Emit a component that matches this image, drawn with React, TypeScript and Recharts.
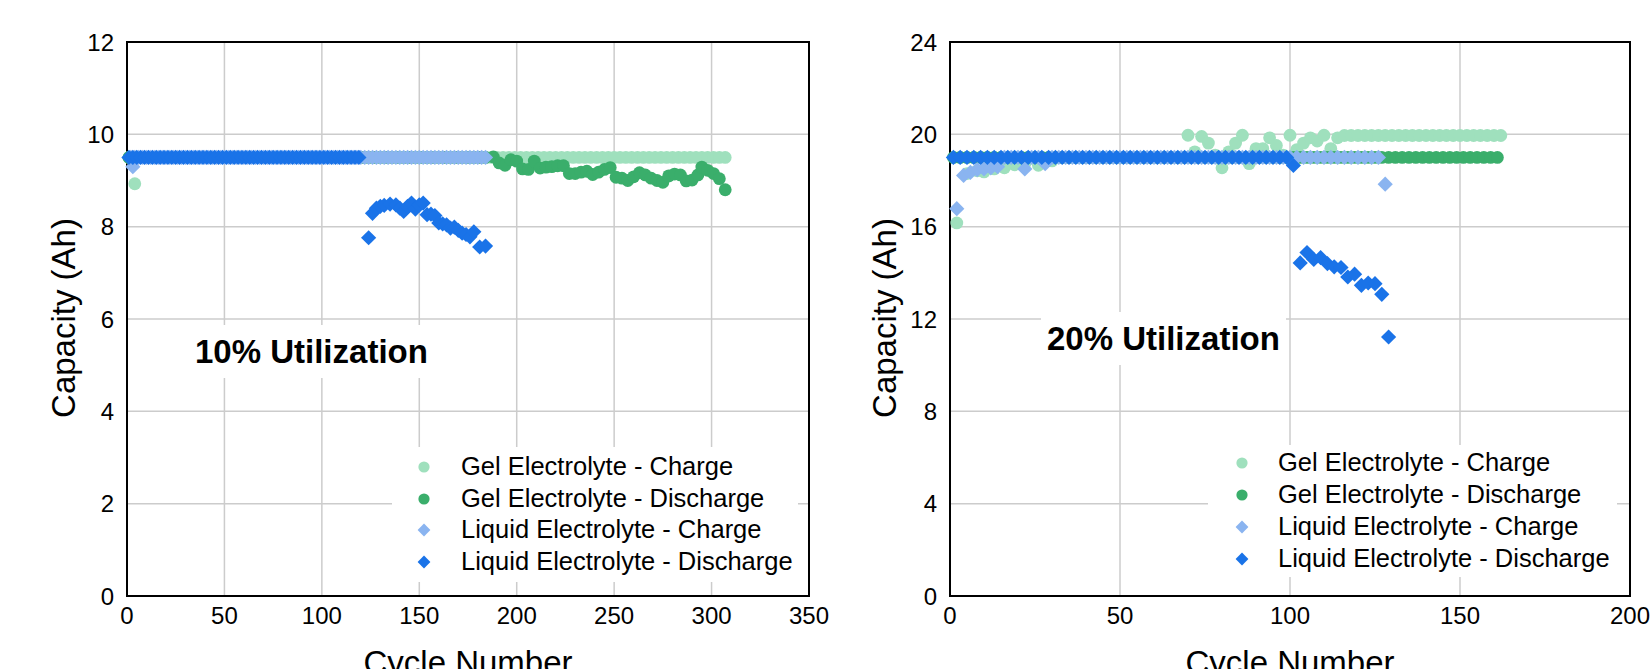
import React from 'react';
import { ScatterChart, Scatter, XAxis, YAxis, CartesianGrid, ReferenceArea } from 'recharts';

type Pt = [number, number];

const seriesNames = [
  'Gel Electrolyte - Charge',
  'Gel Electrolyte - Discharge',
  'Liquid Electrolyte - Charge',
  'Liquid Electrolyte - Discharge',
];
const seriesColors = ['#9fe0bd', '#3aae6b', '#8ab4f0', '#1a73e8'];
const seriesShapes = ['circle', 'circle', 'diamond', 'diamond'];

// ---- 10% utilization ----
const xTicks10 = [0, 50, 100, 150, 200, 250, 300, 350];
const yTicks10 = [0, 2, 4, 6, 8, 10, 12];

const gelCharge10: Pt[] = [
  [1, 9.5], [4, 8.93], [7, 9.5], [10, 9.5], [13, 9.5], [16, 9.5], [19, 9.5], [22, 9.5], [25, 9.5], [28, 9.5],
  [31, 9.5], [34, 9.5], [37, 9.5], [40, 9.5], [43, 9.5], [46, 9.5], [49, 9.5], [52, 9.5], [55, 9.5], [58, 9.5],
  [61, 9.5], [64, 9.5], [67, 9.5], [70, 9.5], [73, 9.5], [76, 9.5], [79, 9.5], [82, 9.5], [85, 9.5], [88, 9.5],
  [91, 9.5], [94, 9.5], [97, 9.5], [100, 9.5], [103, 9.5], [106, 9.5], [109, 9.5], [112, 9.5], [115, 9.5], [118, 9.5],
  [121, 9.5], [124, 9.5], [127, 9.5], [130, 9.5], [133, 9.5], [136, 9.5], [139, 9.5], [142, 9.5], [145, 9.5], [148, 9.5],
  [151, 9.5], [154, 9.5], [157, 9.5], [160, 9.5], [163, 9.5], [166, 9.5], [169, 9.5], [172, 9.5], [175, 9.5], [178, 9.5],
  [181, 9.5], [184, 9.5], [187, 9.5], [190, 9.5], [193, 9.5], [196, 9.5], [199, 9.5], [202, 9.5], [205, 9.5], [208, 9.5],
  [211, 9.5], [214, 9.5], [217, 9.5], [220, 9.5], [223, 9.5], [226, 9.5], [229, 9.5], [232, 9.5], [235, 9.5], [238, 9.5],
  [241, 9.5], [244, 9.5], [247, 9.5], [250, 9.5], [253, 9.5], [256, 9.5], [259, 9.5], [262, 9.5], [265, 9.5], [268, 9.5],
  [271, 9.5], [274, 9.5], [277, 9.5], [280, 9.5], [283, 9.5], [286, 9.5], [289, 9.5], [292, 9.5], [295, 9.5], [298, 9.5],
  [301, 9.5], [304, 9.5], [307, 9.5],
];

const gelDischarge10: Pt[] = [
  [1, 9.5], [4, 9.5], [7, 9.5], [10, 9.5], [13, 9.5], [16, 9.5], [19, 9.5], [22, 9.5], [25, 9.5], [28, 9.5],
  [31, 9.5], [34, 9.5], [37, 9.5], [40, 9.5], [43, 9.5], [46, 9.5], [49, 9.5], [52, 9.5], [55, 9.5], [58, 9.5],
  [61, 9.5], [64, 9.5], [67, 9.5], [70, 9.5], [73, 9.5], [76, 9.5], [79, 9.5], [82, 9.5], [85, 9.5], [88, 9.5],
  [91, 9.5], [94, 9.5], [97, 9.5], [100, 9.5], [103, 9.5], [106, 9.5], [109, 9.5], [112, 9.5], [115, 9.5], [118, 9.5],
  [121, 9.5], [124, 9.5], [127, 9.5], [130, 9.5], [133, 9.5], [136, 9.5], [139, 9.5], [142, 9.5], [145, 9.5], [148, 9.5],
  [151, 9.5], [154, 9.5], [157, 9.5], [160, 9.5], [163, 9.5], [166, 9.5], [169, 9.5], [172, 9.5], [175, 9.5], [178, 9.5],
  [181, 9.5], [184, 9.5],
  [188, 9.51], [191, 9.38], [194, 9.33], [197, 9.45], [200, 9.42], [203, 9.25], [206, 9.24], [209, 9.42], [212, 9.27],
  [215, 9.29], [218, 9.3], [221, 9.32], [224, 9.32], [227, 9.15], [230, 9.15], [233, 9.18], [236, 9.2], [239, 9.13],
  [242, 9.18], [245, 9.24], [248, 9.28], [251, 9.07], [254, 9.05], [257, 9.0], [260, 9.08], [263, 9.17], [266, 9.12],
  [269, 9.05], [272, 9.0], [275, 8.96], [278, 9.1], [281, 9.14], [284, 9.12], [287, 8.99], [290, 9.01], [293, 9.12],
  [295, 9.29], [298, 9.22], [301, 9.15], [304, 9.04], [307, 8.8],
];

const liquidCharge10: Pt[] = [
  [2, 9.5], [3, 9.3], [4, 9.5], [6, 9.5], [8, 9.5], [10, 9.5], [12, 9.5], [14, 9.5], [16, 9.5], [18, 9.5], [20, 9.5],
  [22, 9.5], [24, 9.5], [26, 9.5], [28, 9.5], [30, 9.5], [32, 9.5], [34, 9.5], [36, 9.5], [38, 9.5], [40, 9.5],
  [42, 9.5], [44, 9.5], [46, 9.5], [48, 9.5], [50, 9.5], [52, 9.5], [54, 9.5], [56, 9.5], [58, 9.5], [60, 9.5],
  [62, 9.5], [64, 9.5], [66, 9.5], [68, 9.5], [70, 9.5], [72, 9.5], [74, 9.5], [76, 9.5], [78, 9.5], [80, 9.5],
  [82, 9.5], [84, 9.5], [86, 9.5], [88, 9.5], [90, 9.5], [92, 9.5], [94, 9.5], [96, 9.5], [98, 9.5], [100, 9.5],
  [102, 9.5], [104, 9.5], [106, 9.5], [108, 9.5], [110, 9.5], [112, 9.5], [114, 9.5], [116, 9.5], [118, 9.5], [120, 9.5],
  [122, 9.5], [124, 9.5], [126, 9.5], [128, 9.5], [130, 9.5], [132, 9.5], [134, 9.5], [136, 9.5], [138, 9.5], [140, 9.5],
  [142, 9.5], [144, 9.5], [146, 9.5], [148, 9.5], [150, 9.5], [152, 9.5], [154, 9.5], [156, 9.5], [158, 9.5], [160, 9.5],
  [162, 9.5], [164, 9.5], [166, 9.5], [168, 9.5], [170, 9.5], [172, 9.5], [174, 9.5], [176, 9.5], [178, 9.5], [180, 9.5],
  [182, 9.5], [184, 9.5],
];

const liquidDischarge10: Pt[] = [
  [1, 9.5], [3, 9.5], [5, 9.5], [7, 9.5], [9, 9.5], [11, 9.5], [13, 9.5], [15, 9.5], [17, 9.5], [19, 9.5],
  [21, 9.5], [23, 9.5], [25, 9.5], [27, 9.5], [29, 9.5], [31, 9.5], [33, 9.5], [35, 9.5], [37, 9.5], [39, 9.5],
  [41, 9.5], [43, 9.5], [45, 9.5], [47, 9.5], [49, 9.5], [51, 9.5], [53, 9.5], [55, 9.5], [57, 9.5], [59, 9.5],
  [61, 9.5], [63, 9.5], [65, 9.5], [67, 9.5], [69, 9.5], [71, 9.5], [73, 9.5], [75, 9.5], [77, 9.5], [79, 9.5],
  [81, 9.5], [83, 9.5], [85, 9.5], [87, 9.5], [89, 9.5], [91, 9.5], [93, 9.5], [95, 9.5], [97, 9.5], [99, 9.5],
  [101, 9.5], [103, 9.5], [105, 9.5], [107, 9.5], [109, 9.5], [111, 9.5], [113, 9.5], [115, 9.5], [117, 9.5], [119, 9.5],
  [124, 7.76], [126, 8.29], [128, 8.4], [130, 8.44], [132, 8.46], [135, 8.49], [138, 8.47], [140, 8.4], [142, 8.33],
  [144, 8.44], [146, 8.51], [148, 8.38], [150, 8.47], [152, 8.51], [154, 8.26], [156, 8.27], [158, 8.24], [160, 8.08],
  [162, 8.06], [164, 8.04], [166, 7.97], [168, 7.99], [170, 7.92], [172, 7.86], [174, 7.83], [176, 7.78], [178, 7.89],
  [181, 7.56], [184, 7.58],
];

// ---- 20% utilization ----
const xTicks20 = [0, 50, 100, 150, 200];
const yTicks20 = [0, 4, 8, 12, 16, 20, 24];

const gelCharge20: Pt[] = [
  [2, 16.16], [5, 18.3], [8, 18.42], [10, 18.37], [13, 18.5], [16, 18.55], [19, 18.68], [22, 18.72], [26, 18.66], [30, 18.85],
  [32, 19], [34, 19], [36, 19], [38, 19], [40, 19], [42, 19], [44, 19], [46, 19], [48, 19], [50, 19],
  [52, 19], [54, 19], [56, 19], [58, 19], [60, 19], [62, 19], [64, 19], [66, 19], [68, 19],
  [70, 19.96], [72, 19.24], [74, 19.91], [76, 19.62], [78, 19.1], [80, 18.55], [82, 19.24], [84, 19.62], [86, 19.96],
  [88, 18.73], [90, 19.38], [92, 19.38], [94, 19.85], [96, 19.52], [98, 19.1], [100, 19.96], [102, 19.34], [104, 19.62],
  [106, 19.85], [108, 19.71], [110, 19.96], [112, 19.38], [114, 19.85],
  [116, 19.95], [118, 19.95], [120, 19.95], [122, 19.95], [124, 19.95], [126, 19.95], [128, 19.95], [130, 19.95],
  [132, 19.95], [134, 19.95], [136, 19.95], [138, 19.95], [140, 19.95], [142, 19.95], [144, 19.95], [146, 19.95],
  [148, 19.95], [150, 19.95], [152, 19.95], [154, 19.95], [156, 19.95], [158, 19.95], [160, 19.95], [162, 19.95],
];

const gelDischarge20: Pt[] = [
  [1, 19], [3, 19], [5, 19], [7, 19], [9, 19], [11, 19], [13, 19], [15, 19], [17, 19], [19, 19],
  [21, 19], [23, 19], [25, 19], [27, 19], [29, 19], [31, 19], [33, 19], [35, 19], [37, 19], [39, 19],
  [41, 19], [43, 19], [45, 19], [47, 19], [49, 19], [51, 19], [53, 19], [55, 19], [57, 19], [59, 19],
  [61, 19], [63, 19], [65, 19], [67, 19], [69, 19], [71, 19], [73, 19], [75, 19], [77, 19], [79, 19],
  [81, 19], [83, 19], [85, 19], [87, 19], [89, 19], [91, 19], [93, 19], [95, 19], [97, 19], [99, 19],
  [101, 19], [103, 19], [105, 19], [107, 19], [109, 19], [111, 19], [113, 19], [115, 19], [117, 19], [119, 19],
  [121, 19], [123, 19], [125, 19], [127, 19], [129, 19], [131, 19], [133, 19], [135, 19], [137, 19], [139, 19],
  [141, 19], [143, 19], [145, 19], [147, 19], [149, 19], [151, 19], [153, 19], [155, 19], [157, 19], [159, 19],
  [161, 19],
];

const liquidCharge20: Pt[] = [
  [2, 16.78], [4, 18.22], [6, 18.35], [8, 18.47], [10, 18.5], [12, 18.55], [14, 18.6], [16, 19], [18, 19], [20, 19],
  [22, 18.5], [24, 19], [26, 19], [28, 18.73], [30, 19], [32, 19], [34, 19], [36, 19], [38, 19], [40, 19],
  [42, 19], [44, 19], [46, 19], [48, 19], [50, 19], [52, 19], [54, 19], [56, 19], [58, 19], [60, 19],
  [62, 19], [64, 19], [66, 19], [68, 19], [70, 19], [72, 19], [74, 19], [76, 19], [78, 19], [80, 19],
  [82, 19], [84, 19], [86, 19], [88, 19], [90, 19], [92, 19], [94, 19], [96, 19], [98, 19], [100, 19],
  [102, 19], [104, 19], [106, 19], [108, 19], [110, 19], [112, 19], [114, 19], [116, 19], [118, 19], [120, 19],
  [122, 19], [124, 19], [126, 19], [128, 17.84],
];

const liquidDischarge20: Pt[] = [
  [1, 19], [3, 19], [5, 19], [7, 19], [9, 19], [11, 19], [13, 19], [15, 19], [17, 19], [19, 19],
  [21, 19], [23, 19], [25, 19], [27, 19], [29, 19], [31, 19], [33, 19], [35, 19], [37, 19], [39, 19],
  [41, 19], [43, 19], [45, 19], [47, 19], [49, 19], [51, 19], [53, 19], [55, 19], [57, 19], [59, 19],
  [61, 19], [63, 19], [65, 19], [67, 19], [69, 19], [71, 19], [73, 19], [75, 19], [77, 19], [79, 19],
  [81, 19], [83, 19], [85, 19], [87, 19], [89, 19], [91, 19], [93, 19], [95, 19], [97, 19], [99, 19],
  [101, 18.65], [103, 14.43], [105, 14.88], [107, 14.58], [109, 14.66], [111, 14.4], [113, 14.26], [115, 14.23],
  [117, 13.82], [119, 13.94], [121, 13.46], [123, 13.56], [125, 13.53], [127, 13.07], [129, 11.22],
];

const FONT = '"Liberation Sans", Arial, Helvetica, sans-serif';
const H = 669;
const PLOT_TOP = 42;
const PLOT_BOTTOM = 596;

const Dot = (props: any) => <circle cx={props.cx} cy={props.cy} r={6.4} fill={props.fill} />;

const Diamond = (props: any) => {
  const { cx, cy, fill } = props;
  const r = 7.6;
  return <path d={`M${cx},${cy - r}L${cx + r},${cy}L${cx},${cy + r}L${cx - r},${cy}Z`} fill={fill} />;
};

const Marker = ({ shape, color }: { shape: string; color: string }) => (
  <svg width={14} height={14} style={{ display: 'block', flex: 'none' }}>
    {shape === 'circle' ? (
      <circle cx={7} cy={7} r={5.6} fill={color} />
    ) : (
      <path d="M7,0.6L13.4,7L7,13.4L0.6,7Z" fill={color} />
    )}
  </svg>
);

interface PanelProps {
  left: number;
  width: number;
  marginLeft: number;
  marginRight: number;
  xMax: number;
  yMax: number;
  xTicks: number[];
  yTicks: number[];
  series: Pt[][];
}

const Panel = ({ left, width, marginLeft, marginRight, xMax, yMax, xTicks, yTicks, series }: PanelProps) => {
  const tick = { fontSize: 24, fill: '#000', fontFamily: FONT };
  return (
    <div style={{ position: 'absolute', left, top: 0 }}>
      <ScatterChart
        width={width}
        height={H}
        margin={{ top: PLOT_TOP, right: marginRight, bottom: H - PLOT_BOTTOM - 40, left: marginLeft }}
      >
        <CartesianGrid stroke="#cccccc" strokeWidth={1.5} />
        <XAxis
          type="number"
          dataKey="x"
          domain={[0, xMax]}
          ticks={xTicks}
          height={40}
          tickLine={false}
          tickSize={0}
          tickMargin={11}
          axisLine={{ stroke: '#000', strokeWidth: 2 }}
          tick={tick}
        />
        <YAxis
          type="number"
          dataKey="y"
          domain={[0, yMax]}
          ticks={yTicks}
          width={60}
          tickLine={false}
          tickSize={0}
          tickMargin={13}
          axisLine={{ stroke: '#000', strokeWidth: 2 }}
          tick={tick}
        />
        <ReferenceArea x1={0} x2={xMax} y1={0} y2={yMax} fill="none" stroke="#000" strokeWidth={2} />
        {series.map((pts, i) => (
          <Scatter
            key={seriesNames[i]}
            name={seriesNames[i]}
            data={pts.map(([x, y]) => ({ x, y }))}
            fill={seriesColors[i]}
            shape={seriesShapes[i] === 'circle' ? Dot : Diamond}
            isAnimationActive={false}
          />
        ))}
      </ScatterChart>
    </div>
  );
};

const Legend = ({ left, top, width, height, padTop, rowH, markerLeft, gap }: any) => (
  <div
    style={{
      position: 'absolute', left, top, width, height, background: '#fff',
      boxSizing: 'border-box', paddingTop: padTop, paddingLeft: markerLeft,
    }}
  >
    {seriesNames.map((name, i) => (
      <div key={name} style={{ display: 'flex', alignItems: 'center', height: rowH }}>
        <Marker shape={seriesShapes[i]} color={seriesColors[i]} />
        <span style={{ marginLeft: gap, fontSize: 25.5, lineHeight: 1, fontFamily: FONT, color: '#000', whiteSpace: 'nowrap' }}>
          {name}
        </span>
      </div>
    ))}
  </div>
);

const Note = ({ left, top, text }: { left: number; top: number; text: string }) => (
  <div
    style={{
      position: 'absolute', left, top, background: '#fff', padding: '10px 6px',
      fontFamily: FONT, fontWeight: 'bold', fontSize: 33, lineHeight: 1, whiteSpace: 'nowrap', color: '#000',
    }}
  >
    {text}
  </div>
);

const AxisTitle = ({ x, y, text, vertical }: { x: number; y: number; text: string; vertical?: boolean }) => (
  <div
    style={{
      position: 'absolute', left: x, top: y, fontFamily: FONT, fontSize: 33, lineHeight: 1, whiteSpace: 'nowrap',
      color: '#000',
      transform: vertical ? 'translate(-50%, -50%) rotate(-90deg)' : 'translateX(-50%)',
    }}
  >
    {text}
  </div>
);

export default function App() {
  return (
    <div style={{ position: 'absolute', left: 0, top: 0, width: 1652, height: H, overflow: 'hidden', background: '#fff' }}>
      <Panel
        left={0} width={830} marginLeft={67} marginRight={21} xMax={350} yMax={12}
        xTicks={xTicks10} yTicks={yTicks10}
        series={[gelCharge10, gelDischarge10, liquidCharge10, liquidDischarge10]}
      />
      <Panel
        left={830} width={822} marginLeft={60} marginRight={22} xMax={200} yMax={24}
        xTicks={xTicks20} yTicks={yTicks20}
        series={[gelCharge20, gelDischarge20, liquidCharge20, liquidDischarge20]}
      />
      <Note left={189} top={325} text="10% Utilization" />
      <Note left={1041} top={312} text="20% Utilization" />
      <Legend left={392} top={447} width={406} height={135} padTop={4} rowH={31.7} markerLeft={25} gap={30} />
      <Legend left={1208} top={445} width={409} height={132} padTop={2} rowH={32} markerLeft={27} gap={29} />
      <AxisTitle x={63} y={318} text="Capacity (Ah)" vertical />
      <AxisTitle x={884} y={318} text="Capacity (Ah)" vertical />
      <AxisTitle x={468} y={646} text="Cycle Number" />
      <AxisTitle x={1290} y={646} text="Cycle Number" />
    </div>
  );
}
